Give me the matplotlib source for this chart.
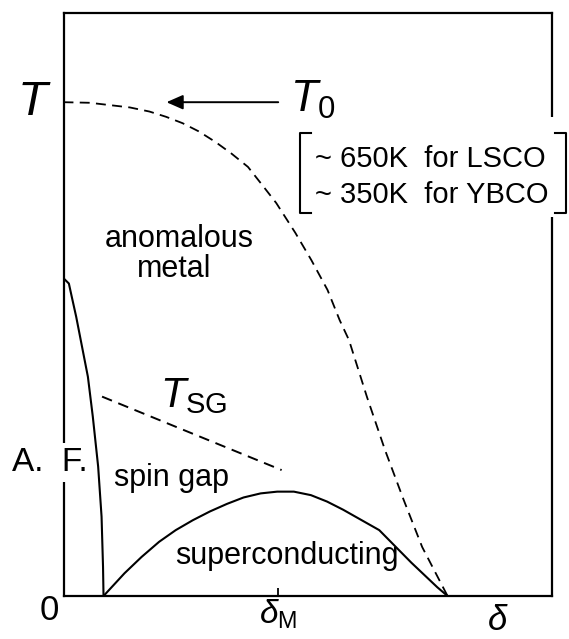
import matplotlib
matplotlib.use('Agg')
import matplotlib.pyplot as plt
from matplotlib.patches import Rectangle

plt.rcParams['font.family'] = ['Liberation Sans', 'DejaVu Sans']
plt.rcParams['mathtext.fontset'] = 'custom'
plt.rcParams['mathtext.rm'] = 'Liberation Sans'
plt.rcParams['mathtext.it'] = 'Liberation Sans:italic'

# doping (0..1 of the frame width) and temperature (0..1 of the frame height)
# T0 crossover, dashed
t0_x = [0.0, 0.054, 0.095, 0.136, 0.176, 0.210, 0.244, 0.277, 0.311, 0.344,
        0.378, 0.410, 0.436, 0.475, 0.508, 0.541, 0.566, 0.585, 0.622, 0.659,
        0.697, 0.735, 0.787]
t0_y = [0.847, 0.846, 0.842, 0.838, 0.831, 0.822, 0.811, 0.797, 0.779, 0.759,
        0.736, 0.702, 0.674, 0.623, 0.576, 0.525, 0.473, 0.439, 0.341, 0.250,
        0.165, 0.084, 0.0]

# spin gap line T_SG, dashed
tsg_x = [0.079, 0.447]
tsg_y = [0.342, 0.216]

# antiferromagnetic boundary
af_x = [0.0, 0.011, 0.017, 0.026, 0.050, 0.060, 0.071, 0.078, 0.081, 0.082]
af_y = [0.545, 0.536, 0.513, 0.479, 0.376, 0.308, 0.222, 0.136, 0.050, 0.0]

# superconducting dome
sc_x = [0.082, 0.125, 0.160, 0.196, 0.230, 0.265, 0.300, 0.335, 0.369, 0.404,
        0.438, 0.472, 0.507, 0.540, 0.573, 0.647, 0.713, 0.766, 0.787]
sc_y = [0.0, 0.039, 0.067, 0.093, 0.113, 0.130, 0.145, 0.158, 0.169, 0.176,
        0.179, 0.179, 0.173, 0.162, 0.148, 0.113, 0.057, 0.015, 0.0]

delta_m = 0.44
tick_labels = [r'$\delta_\mathrm{M}$']

fig = plt.figure(figsize=(5.69, 6.39), dpi=100)
ax = fig.add_axes([63.5 / 569, 43 / 639, 488 / 569, 583 / 639])
ax.set_xlim(0, 1)
ax.set_ylim(0, 1)

ax.plot(t0_x, t0_y, color='black', lw=1.3, ls=(0, (5.5, 3.5)))
ax.plot(tsg_x, tsg_y, color='black', lw=1.4, ls=(0, (5.5, 3.5)))
ax.plot(af_x, af_y, color='black', lw=1.5)
ax.plot(sc_x, sc_y, color='black', lw=1.5)

for s in ax.spines.values():
    s.set_linewidth(1.6)
ax.set_yticks([])
ax.set_xticks([delta_m])
ax.set_xticklabels(tick_labels, fontsize=24)
ax.tick_params(axis='x', direction='in', length=6, width=1.3, pad=1)

# arrow pointing at T0
ax.annotate('', xy=(0.211, 0.847), xytext=(0.44, 0.847),
            arrowprops=dict(arrowstyle='-|>,head_length=0.5,head_width=0.22',
                            color='black', lw=1.4, mutation_scale=20,
                            shrinkA=0, shrinkB=0))

# labels
ax.text(-0.060, 0.825, '$T$', fontsize=35, ha='center', va='baseline')
ax.text(0.465, 0.831, r'$T_\mathrm{0}$', fontsize=32, ha='left', va='baseline')
ax.text(0.198, 0.324, r'$T_\mathrm{SG}$', fontsize=30, ha='left', va='baseline')
ax.text(-0.028, 0.215, 'A.  F.', fontsize=24, ha='center', va='baseline',
        zorder=4, clip_on=False,
        bbox=dict(facecolor='white', edgecolor='none', pad=3))
ax.text(-0.0295, -0.041, '0', fontsize=25, ha='center', va='baseline')
ax.text(0.89, -0.014, r'$\delta$', fontsize=25, ha='center', va='top')

ax.text(0.237, 0.599, 'anomalous', fontsize=22, ha='center', va='baseline')
ax.text(0.227, 0.547, 'metal', fontsize=22, ha='center', va='baseline')
ax.text(0.221, 0.189, 'spin gap', fontsize=22, ha='center', va='baseline')
ax.text(0.458, 0.055, 'superconducting', fontsize=22, ha='center', va='baseline')

# bracketed note on T0, it sits over the right edge of the frame
ax.add_patch(Rectangle((0.97, 0.65), 0.09, 0.172, facecolor='white',
                       edgecolor='none', zorder=3, clip_on=False))
br_top, br_bot = 0.794, 0.657
br_left, br_right, stub = 0.485, 1.03, 0.022
ax.plot([br_left + stub, br_left, br_left, br_left + stub],
        [br_top, br_top, br_bot, br_bot], color='black', lw=1.5,
        clip_on=False, zorder=4)
ax.plot([br_right - stub, br_right, br_right, br_right - stub],
        [br_top, br_top, br_bot, br_bot], color='black', lw=1.5,
        clip_on=False, zorder=4)
ax.text(0.515, 0.736, '~ 650K  for LSCO', fontsize=21, ha='left', va='baseline', zorder=4)
ax.text(0.515, 0.674, '~ 350K  for YBCO', fontsize=21, ha='left', va='baseline', zorder=4)

plt.savefig('out.png', dpi=100)
